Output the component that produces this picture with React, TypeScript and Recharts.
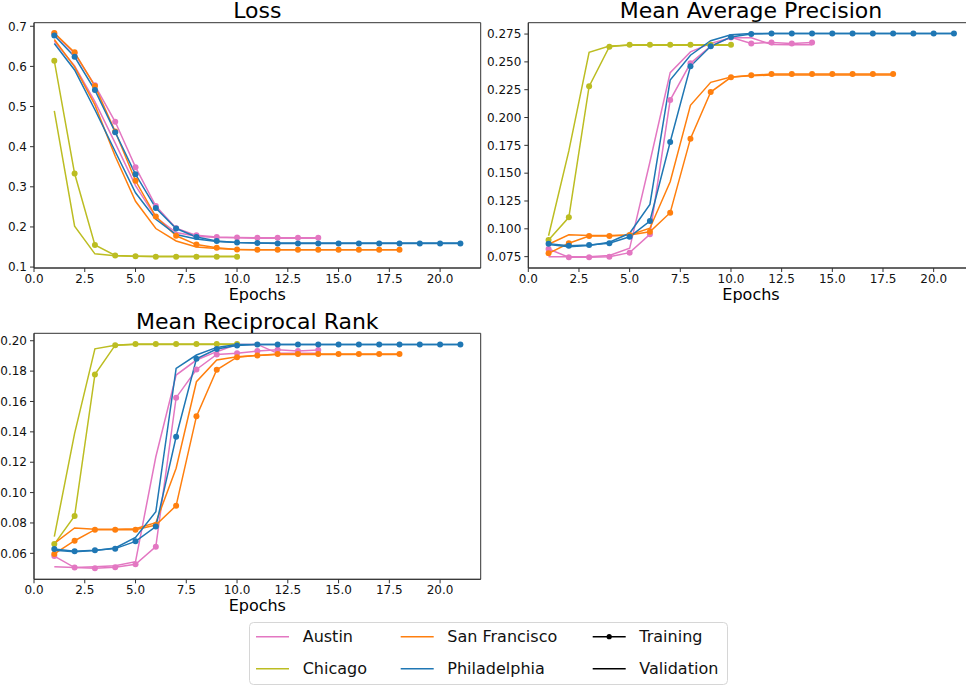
import React from 'react';
import { LineChart, Line, XAxis, YAxis, ReferenceArea } from 'recharts';

const epochs = [1, 2, 3, 4, 5, 6, 7, 8, 9, 10, 11, 12, 13, 14, 15, 16, 17, 18, 19, 20, 21];
const cities = ['Austin', 'Chicago', 'San Francisco', 'Philadelphia'];
const cityColors = ['#e377c2', '#bcbd22', '#ff7f0e', '#1f77b4'];
const xTicks = [0, 2.5, 5, 7.5, 10, 12.5, 15, 17.5, 20];
const lossTicks = [0.1, 0.2, 0.3, 0.4, 0.5, 0.6, 0.7];
const mapTicks = [0.075, 0.1, 0.125, 0.15, 0.175, 0.2, 0.225, 0.25, 0.275];
const mrrTicks = [0.06, 0.08, 0.1, 0.12, 0.14, 0.16, 0.18, 0.2];

// Loss
const austinLossTrain = [0.682, 0.632, 0.553, 0.462, 0.349, 0.252, 0.197, 0.179, 0.175, 0.174, 0.173, 0.173, 0.173, 0.173];
const austinLossVal = [0.663, 0.601, 0.512, 0.409, 0.303, 0.224, 0.186, 0.177, 0.174, 0.173, 0.172, 0.172, 0.172, 0.172];
const chicagoLossTrain = [0.614, 0.333, 0.155, 0.129, 0.127, 0.126, 0.126, 0.126, 0.126, 0.126];
const chicagoLossVal = [0.489, 0.202, 0.133, 0.128, 0.127, 0.127, 0.127, 0.127, 0.127, 0.127];
const sfLossTrain = [0.683, 0.635, 0.551, 0.438, 0.315, 0.226, 0.178, 0.156, 0.148, 0.144, 0.143, 0.143, 0.143, 0.143, 0.143, 0.143, 0.143, 0.143];
const sfLossVal = [0.667, 0.599, 0.504, 0.376, 0.264, 0.196, 0.165, 0.150, 0.146, 0.144, 0.143, 0.143, 0.143, 0.143, 0.143, 0.143, 0.143, 0.143];
const phlLossTrain = [0.677, 0.624, 0.541, 0.436, 0.331, 0.247, 0.196, 0.175, 0.165, 0.161, 0.160, 0.159, 0.159, 0.159, 0.159, 0.159, 0.159, 0.159, 0.159, 0.159, 0.159];
const phlLossVal = [0.657, 0.591, 0.492, 0.388, 0.285, 0.219, 0.181, 0.170, 0.164, 0.161, 0.160, 0.160, 0.160, 0.160, 0.160, 0.160, 0.160, 0.160, 0.160, 0.160, 0.160];

// Mean Average Precision
const austinMapTrain = [0.0819, 0.0744, 0.0744, 0.075, 0.0786, 0.0951, 0.2157, 0.2487, 0.2642, 0.272, 0.2666, 0.2675, 0.2666, 0.2675];
const austinMapVal = [0.075, 0.075, 0.075, 0.076, 0.0825, 0.16, 0.2403, 0.259, 0.2666, 0.2717, 0.2717, 0.2657, 0.2655, 0.2655];
const chicagoMapTrain = [0.0899, 0.1103, 0.228, 0.2636, 0.2654, 0.2654, 0.2654, 0.2654, 0.2654, 0.2654];
const chicagoMapVal = [0.0938, 0.17, 0.2586, 0.2642, 0.265, 0.265, 0.265, 0.265, 0.265, 0.265];
const sfMapTrain = [0.078, 0.087, 0.0935, 0.0935, 0.0945, 0.0974, 0.1145, 0.181, 0.2229, 0.2361, 0.2379, 0.239, 0.239, 0.239, 0.239, 0.239, 0.239, 0.239];
const sfMapVal = [0.0861, 0.0947, 0.094, 0.094, 0.0945, 0.1005, 0.1423, 0.211, 0.2316, 0.2364, 0.2375, 0.2382, 0.2382, 0.2382, 0.2382, 0.2382, 0.2382, 0.2382];
const phlMapTrain = [0.0867, 0.0849, 0.0855, 0.087, 0.0929, 0.107, 0.178, 0.246, 0.264, 0.2723, 0.275, 0.2756, 0.2756, 0.2756, 0.2756, 0.2756, 0.2756, 0.2756, 0.2756, 0.2756, 0.2756];
const phlMapVal = [0.086, 0.084, 0.085, 0.088, 0.096, 0.122, 0.2337, 0.256, 0.269, 0.2744, 0.2756, 0.2756, 0.2756, 0.2756, 0.2756, 0.2756, 0.2756, 0.2756, 0.2756, 0.2756, 0.2756];

// Mean Reciprocal Rank
const austinMrrTrain = [0.0582, 0.0506, 0.0501, 0.0508, 0.0528, 0.0644, 0.1625, 0.1811, 0.191, 0.1917, 0.1932, 0.1941, 0.1932, 0.1939];
const austinMrrVal = [0.0512, 0.0507, 0.0512, 0.0519, 0.0545, 0.1236, 0.1774, 0.1873, 0.1928, 0.1976, 0.1976, 0.1917, 0.1917, 0.1917];
const chicagoMrrTrain = [0.0661, 0.0846, 0.1778, 0.1971, 0.1978, 0.1978, 0.1978, 0.1978, 0.1978, 0.1978];
const chicagoMrrVal = [0.071, 0.139, 0.1947, 0.197, 0.1975, 0.1975, 0.1975, 0.1975, 0.1975, 0.1975];
const sfMrrTrain = [0.0596, 0.0683, 0.0756, 0.0756, 0.0756, 0.0786, 0.0914, 0.1502, 0.1809, 0.1892, 0.1903, 0.1912, 0.1912, 0.1912, 0.1912, 0.1912, 0.1912, 0.1912];
const sfMrrVal = [0.0666, 0.0767, 0.0758, 0.0758, 0.0762, 0.0802, 0.116, 0.173, 0.1873, 0.1895, 0.1903, 0.191, 0.191, 0.191, 0.191, 0.191, 0.191, 0.191];
const phlMrrTrain = [0.0629, 0.0613, 0.062, 0.0631, 0.0679, 0.0776, 0.1368, 0.1881, 0.1945, 0.1969, 0.1976, 0.1976, 0.1976, 0.1976, 0.1976, 0.1976, 0.1976, 0.1976, 0.1976, 0.1976, 0.1976];
const phlMrrVal = [0.062, 0.061, 0.0618, 0.0635, 0.0705, 0.0874, 0.1818, 0.1906, 0.1956, 0.1976, 0.1976, 0.1976, 0.1976, 0.1976, 0.1976, 0.1976, 0.1976, 0.1976, 0.1976, 0.1976, 0.1976];

const FONT = '"DejaVu Sans", sans-serif';

const toPoints = (values: number[]) => values.map((v, i) => ({ epoch: epochs[i], value: v }));

type Plot = { x0: number; x1: number; y0: number; y1: number };

type PanelProps = {
  left: number;
  top: number;
  width: number;
  height: number;
  plot: Plot;
  yDomain: [number, number];
  yTicks: number[];
  yDigits: number;
  train: number[][];
  val: number[][];
};

function Panel({ left, top, width, height, plot, yDomain, yTicks, yDigits, train, val }: PanelProps) {
  const margin = { top: plot.y0 - top, right: width - (plot.x1 - left), bottom: 0, left: 0 };
  const yAxisWidth = plot.x0 - left;
  const xAxisHeight = height - (plot.y1 - top);
  const tickStyle = { fontSize: 12, fill: '#111', fontFamily: FONT };
  return (
    <div style={{ position: 'absolute', left, top, width, height }}>
      <LineChart width={width} height={height} margin={margin}>
        <XAxis
          dataKey="epoch"
          type="number"
          domain={[0, 22]}
          ticks={xTicks}
          allowDataOverflow
          height={xAxisHeight}
          tickSize={4}
          tickMargin={2}
          tick={tickStyle}
          stroke="#333"
          tickFormatter={(v: number) => v.toFixed(1)}
        />
        <YAxis
          dataKey="value"
          type="number"
          domain={yDomain}
          ticks={yTicks}
          allowDataOverflow
          width={yAxisWidth}
          tickSize={4}
          tickMargin={3}
          tick={tickStyle}
          stroke="#333"
          tickFormatter={(v: number) => v.toFixed(yDigits)}
        />
        {cities.map((c, i) => [
          <Line
            key={c + '-train'}
            data={toPoints(train[i])}
            dataKey="value"
            type="linear"
            stroke={cityColors[i]}
            strokeWidth={1.5}
            dot={{ r: 3, fill: cityColors[i], stroke: cityColors[i], strokeWidth: 0 }}
            activeDot={false}
            isAnimationActive={false}
          />,
          <Line
            key={c + '-val'}
            data={toPoints(val[i])}
            dataKey="value"
            type="linear"
            stroke={cityColors[i]}
            strokeWidth={1.5}
            dot={false}
            activeDot={false}
            isAnimationActive={false}
          />,
        ])}
        <ReferenceArea
          x1={0}
          x2={22}
          y1={yDomain[0]}
          y2={yDomain[1]}
          fill="none"
          fillOpacity={0}
          stroke="#333"
          strokeWidth={1}
          ifOverflow="visible"
        />
      </LineChart>
    </div>
  );
}

function Overlay() {
  const titleStyle = { fontFamily: FONT, fontSize: 22, fill: '#000' } as const;
  const labelStyle = { fontFamily: FONT, fontSize: 16, fill: '#000' } as const;
  const legendStyle = { fontFamily: FONT, fontSize: 16, fill: '#111' } as const;
  const legendCols = [
    { lx: 256, tx: 302.7 },
    { lx: 400.7, tx: 447.3 },
    { lx: 592.7, tx: 639.3 },
  ];
  const rows = [
    { ly: 636.7, ty: 642.3 },
    { ly: 668.7, ty: 674.3 },
  ];
  const entries = [
    { label: cities[0], color: cityColors[0], dot: false, col: 0, row: 0 },
    { label: cities[1], color: cityColors[1], dot: false, col: 0, row: 1 },
    { label: cities[2], color: cityColors[2], dot: false, col: 1, row: 0 },
    { label: cities[3], color: cityColors[3], dot: false, col: 1, row: 1 },
    { label: 'Training', color: '#000', dot: true, col: 2, row: 0 },
    { label: 'Validation', color: '#000', dot: false, col: 2, row: 1 },
  ];
  return (
    <svg
      width={966}
      height={686}
      style={{ position: 'absolute', left: 0, top: 0, pointerEvents: 'none' }}
    >
      <text x={257.3} y={18} textAnchor="middle" style={titleStyle}>Loss</text>
      <text x={751} y={18} textAnchor="middle" style={titleStyle}>Mean Average Precision</text>
      <text x={257.3} y={329.3} textAnchor="middle" style={titleStyle}>Mean Reciprocal Rank</text>
      <text x={257.3} y={299.5} textAnchor="middle" style={labelStyle}>Epochs</text>
      <text x={751} y={299.5} textAnchor="middle" style={labelStyle}>Epochs</text>
      <text x={257.3} y={611} textAnchor="middle" style={labelStyle}>Epochs</text>
      <rect x={249.5} y={622.5} width={478} height={62} rx={4} ry={4} fill="#fff" stroke="#d6d6d6" strokeWidth={1} />
      {entries.map((e) => {
        const c = legendCols[e.col];
        const r = rows[e.row];
        return (
          <g key={e.label}>
            <line x1={c.lx} x2={c.lx + 33} y1={r.ly} y2={r.ly} stroke={e.color} strokeWidth={1.5} />
            {e.dot && <circle cx={c.lx + 16.5} cy={r.ly} r={2.6} fill={e.color} />}
            <text x={c.tx} y={r.ty} style={legendStyle}>{e.label}</text>
          </g>
        );
      })}
    </svg>
  );
}

export default function App() {
  return (
    <div
      style={{
        position: 'absolute',
        left: 0,
        top: 0,
        width: 966,
        height: 686,
        overflow: 'hidden',
        background: '#fff',
      }}
    >
      <Panel
        left={0}
        top={0}
        width={490}
        height={310}
        plot={{ x0: 34, x1: 480.7, y0: 22.7, y1: 268 }}
        yDomain={[0.0977, 0.7089]}
        yTicks={lossTicks}
        yDigits={1}
        train={[austinLossTrain, chicagoLossTrain, sfLossTrain, phlLossTrain]}
        val={[austinLossVal, chicagoLossVal, sfLossVal, phlLossVal]}
      />
      <Panel
        left={480}
        top={0}
        width={500}
        height={310}
        plot={{ x0: 528.3, x1: 974.2, y0: 22.7, y1: 268 }}
        yDomain={[0.0648, 0.2852]}
        yTicks={mapTicks}
        yDigits={3}
        train={[austinMapTrain, chicagoMapTrain, sfMapTrain, phlMapTrain]}
        val={[austinMapVal, chicagoMapVal, sfMapVal, phlMapVal]}
      />
      <Panel
        left={0}
        top={310}
        width={490}
        height={310}
        plot={{ x0: 34, x1: 480.7, y0: 333.3, y1: 579.3 }}
        yDomain={[0.0429, 0.2049]}
        yTicks={mrrTicks}
        yDigits={2}
        train={[austinMrrTrain, chicagoMrrTrain, sfMrrTrain, phlMrrTrain]}
        val={[austinMrrVal, chicagoMrrVal, sfMrrVal, phlMrrVal]}
      />
      <Overlay />
    </div>
  );
}
